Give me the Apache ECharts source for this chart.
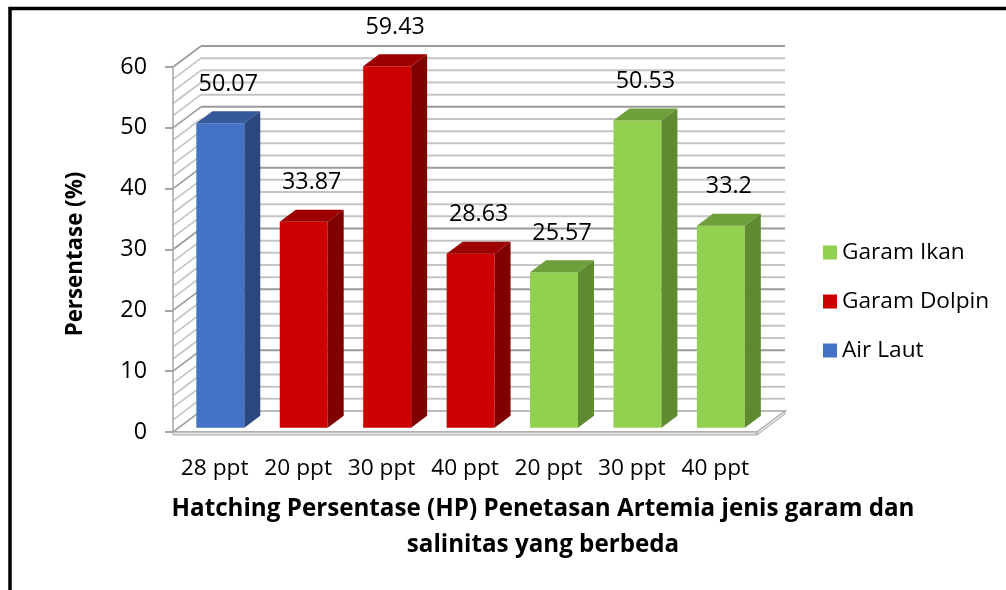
<!DOCTYPE html>
<html>
<head>
<meta charset="utf-8">
<script src="https://cdn.jsdelivr.net/npm/echarts@6/dist/echarts.min.js"></script>
<style>
html,body{margin:0;padding:0;background:#fff;}
#chart{width:1006px;height:590px;}
</style>
</head>
<body>
<div id="chart"></div>
<script>
// ---- data ----
const categories = ['28 ppt', '20 ppt', '30 ppt', '40 ppt', '20 ppt', '30 ppt', '40 ppt'];
const airLaut = [50.07];          // category 0
const garamDolpin = [33.87, 59.43, 28.63]; // categories 1..3
const garamIkan = [25.57, 50.53, 33.2];    // categories 4..6
const yMin = 0, yMax = 60, yStep = 10, gridStep = 2;
const xTitle = ['Hatching Persentase (HP) Penetasan Artemia jenis garam dan', 'salinitas yang berbeda'];
const yTitle = 'Persentase (%)';

const FONT = '"Open Sans", Lato, sans-serif';
const DX = 28, DY = -21;       // depth offset of the 3D box
const D0 = 0.2, D1 = 0.77;     // bar depth range
const BARW = 0.575;            // bar width ratio of band

const palettes = {
  'Air Laut':     { front: '#4472C4', top: '#35599A', side: '#2A4780' },
  'Garam Dolpin': { front: '#CC0000', top: '#9C0000', side: '#800000' },
  'Garam Ikan':   { front: '#92D050', top: '#6F9F3A', side: '#5E8A31' }
};

function makeBarRender(pal) {
  return function (params, api) {
    const i = api.value(0), v = api.value(1);
    const base = api.coord([i, 0]);
    const top = api.coord([i, v]);
    const band = api.size([1, 0])[0];
    const w = band * BARW;
    const fx = base[0] - w / 2 + DX * D0;
    const by = base[1] + DY * D0;
    const ty = top[1] + DY * D0;
    const ddx = DX * (D1 - D0), ddy = DY * (D1 - D0);
    return {
      type: 'group',
      children: [
        { type: 'rect', shape: { x: fx, y: ty, width: w, height: by - ty }, style: { fill: pal.front } },
        { type: 'polygon', shape: { points: [[fx, ty], [fx + w, ty], [fx + w + ddx, ty + ddy], [fx + ddx, ty + ddy]] }, style: { fill: pal.top } },
        { type: 'polygon', shape: { points: [[fx + w, ty], [fx + w + ddx, ty + ddy], [fx + w + ddx, by + ddy], [fx + w, by]] }, style: { fill: pal.side } },
        { type: 'text', style: { text: String(v), x: fx + w / 2 + ddx / 2, y: ty - 39, textAlign: 'center', textVerticalAlign: 'middle', fill: '#000', font: '23.3px ' + FONT } }
      ]
    };
  };
}

function frameRender(params, api) {
  const cs = params.coordSys;
  const x0 = cs.x, x1 = cs.x + cs.width;
  const y0 = api.coord([0, yMin])[1];
  const yT = api.coord([0, yMax])[1];
  const children = [];
  // floor
  children.push({ type: 'polygon', shape: { points: [[x0, y0], [x1, y0], [x1 + DX, y0 + DY], [x0 + DX, y0 + DY]] },
    style: { fill: '#fff', stroke: '#A6A6A6', lineWidth: 1.5 } });
  children.push({ type: 'polygon', shape: { points: [[x0, y0], [x1, y0], [x1, y0 + 3], [x0, y0 + 3]] },
    style: { fill: '#E6E6E6', stroke: '#A6A6A6', lineWidth: 1 } });
  children.push({ type: 'polygon', shape: { points: [[x1, y0], [x1 + DX, y0 + DY], [x1 + DX, y0 + DY + 3], [x1, y0 + 3]] },
    style: { fill: '#E6E6E6', stroke: '#A6A6A6', lineWidth: 1 } });
  for (let v = yMin + gridStep; v <= yMax + 1e-9; v += gridStep) {
    const y = api.coord([0, v])[1];
    const major = Math.abs(v % yStep) < 1e-6;
    const col = major ? '#9A9A9A' : '#C4C4C4';
    children.push({ type: 'line', shape: { x1: x0 + DX, y1: y + DY, x2: x1 + DX, y2: y + DY }, style: { stroke: col, lineWidth: 2 } });
    children.push({ type: 'line', shape: { x1: x0, y1: y, x2: x0 + DX, y2: y + DY }, style: { stroke: col, lineWidth: 1.6 } });
  }
  // side wall base hatch and front edge
  children.push({ type: 'line', shape: { x1: x0, y1: y0, x2: x0 + DX, y2: y0 + DY }, style: { stroke: '#A6A6A6', lineWidth: 1.5 } });
  children.push({ type: 'line', shape: { x1: x0, y1: y0, x2: x0, y2: yT }, style: { stroke: '#A6A6A6', lineWidth: 1.5 } });
  return { type: 'group', children: children };
}

function toData(arr, offset) { return arr.map((v, k) => [k + offset, v]); }

const chart = echarts.init(document.getElementById('chart'), null, { renderer: 'canvas' });
const seriesDefs = [
  { name: 'Air Laut', data: toData(airLaut, 0) },
  { name: 'Garam Dolpin', data: toData(garamDolpin, airLaut.length) },
  { name: 'Garam Ikan', data: toData(garamIkan, airLaut.length + garamDolpin.length) }
];

chart.setOption({
  animation: false,
  backgroundColor: '#fff',
  grid: { left: 173, top: 67, width: 584, height: 365, containLabel: false },
  xAxis: {
    type: 'category', data: categories, boundaryGap: true,
    axisLine: { show: false }, axisTick: { show: false }, splitLine: { show: false },
    axisLabel: { color: '#000', fontFamily: FONT, fontSize: 22.7, margin: 25, interval: 0 }
  },
  yAxis: {
    type: 'value', min: yMin, max: yMax, interval: yStep,
    axisLine: { show: false },
    axisTick: { show: true, length: 8, lineStyle: { color: '#888', width: 1.5 } },
    splitLine: { show: false },
    axisLabel: { color: '#000', fontFamily: FONT, fontSize: 23.3, margin: 26 }
  },
  legend: {
    orient: 'vertical', left: 818, top: 236,
    itemWidth: 14, itemHeight: 14, itemGap: 26, icon: 'rect',
    data: ['Garam Ikan', 'Garam Dolpin', 'Air Laut'],
    textStyle: { color: '#000', fontFamily: FONT, fontSize: 22.7, padding: [0, 0, 0, 0] }
  },
  series: [
    { type: 'custom', name: '_frame', silent: true, z: 1, data: [[0, 0]], renderItem: frameRender, legendHoverLink: false }
  ].concat(seriesDefs.map(s => ({
    type: 'custom', name: s.name, z: 5, data: s.data,
    itemStyle: { color: palettes[s.name].front },
    renderItem: makeBarRender(palettes[s.name])
  }))),
  graphic: [
    { type: 'rect', shape: { x: 10, y: 8.5, width: 1200, height: 800 }, style: { fill: 'none', stroke: '#000', lineWidth: 3.5 }, z: 100 },
    { type: 'text', x: 543, y: 509, style: { text: xTitle[0], textAlign: 'center', textVerticalAlign: 'middle', font: 'bold 24.2px ' + FONT, fill: '#000' } },
    { type: 'text', x: 543, y: 545, style: { text: xTitle[1], textAlign: 'center', textVerticalAlign: 'middle', font: 'bold 24.2px ' + FONT, fill: '#000' } },
    { type: 'text', x: 76, y: 254, rotation: Math.PI / 2, style: { text: yTitle, textAlign: 'center', textVerticalAlign: 'middle', font: 'bold 22.3px ' + FONT, fill: '#000' } }
  ]
});
</script>
</body>
</html>
